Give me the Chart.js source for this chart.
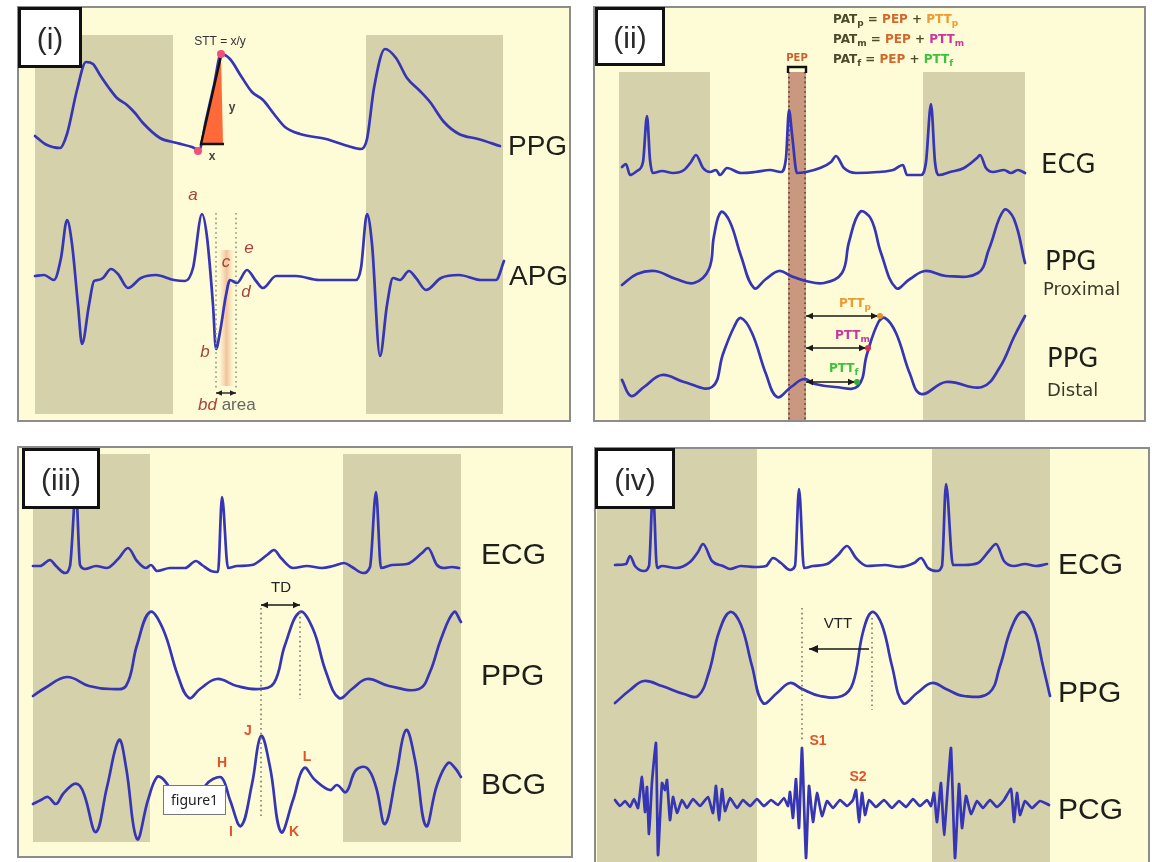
<!DOCTYPE html>
<html>
<head>
<meta charset="utf-8">
<title>PPG / APG / ECG / BCG / PCG timing</title>
<script src="https://cdn.jsdelivr.net/npm/chart.js@4.4.1/dist/chart.umd.min.js"></script>
<style>
  html, body { margin: 0; padding: 0; background: #fff; }
  #page { position: relative; width: 1152px; height: 862px; overflow: hidden; background: #fff; }
  #page canvas { position: absolute; }
</style>
</head>
<body>
<div id="page">
  <canvas id="p1"></canvas>
  <canvas id="p2"></canvas>
  <canvas id="p3"></canvas>
  <canvas id="p4"></canvas>
</div>
<script>
// ---- data: [time, amplitude] (amplitude is up-positive, relative to the trace baseline)

// (i) PPG / APG
const p1Bands = [[18, 156], [349, 486]];
const p1Names = ['PPG', 'APG'];
const p1Ppg = [[18,14],[28,6],[43,2],[50,16],[60,60],[69,88],[76,86],[83,75],[92,62],[100,52],[110,45],[118,37],[126,27],[143,12],[160,7],[175,3],[182,0],[189,30],[197,65],[204,96],[213,91],[224,74],[235,58],[246,50],[257,36],[268,23],[283,16],[309,11],[331,4],[344,1],[350,11],[357,62],[368,101],[379,92],[390,72],[402,60],[413,48],[427,28],[442,16],[461,11],[483,4]];
const p1Apg = [[18,2],[27,3],[37,-2],[44,20],[50,58],[55,34],[61,-27],[65,-66],[72,-27],[77,-3],[81,-2],[86,0],[94,9],[101,4],[111,-10],[124,0],[139,3],[157,-2],[168,-3],[176,10],[185,64],[190,41],[196,-27],[199,-71],[203,-54],[209,-17],[213,-2],[220,-5],[230,8],[239,-3],[246,-10],[259,2],[279,2],[302,-2],[339,-2],[344,10],[350,64],[355,34],[363,-78],[370,-27],[376,0],[383,-2],[392,7],[399,0],[409,-12],[424,0],[442,3],[464,-2],[479,-2],[487,17]];
const p1Marks = ['a', 'b', 'c', 'd', 'e'];

// (ii) ECG / PPG proximal / PPG distal
const p2Bands = [[26, 117], [330, 432]];
const p2Pep = [195, 213];
const p2Names = ['ECG', 'PPG', 'PPG'];
const p2Sites = ['Proximal', 'Distal'];
const p2Ecg = [[29,3],[33,6],[37,-5],[44,-1],[50,8],[54,54],[57,10],[60,-3],[69,-1],[80,-3],[91,0],[98,8],[103,15],[110,2],[117,-2],[123,0],[127,-5],[134,2],[148,-3],[162,-2],[177,0],[188,-2],[193,12],[196,60],[199,36],[204,-3],[213,-2],[227,2],[238,8],[243,14],[251,2],[263,-3],[285,-2],[300,0],[310,5],[314,-5],[328,-5],[333,8],[338,66],[342,8],[346,-5],[357,-2],[371,2],[384,12],[387,15],[393,2],[400,-2],[411,0],[418,-3],[425,0],[432,-3]];
const p2PpgProx = [[29,-2],[44,9],[62,12],[83,4],[101,0],[116,14],[121,47],[128,71],[137,61],[148,27],[161,-5],[173,4],[186,12],[198,7],[213,2],[231,0],[249,10],[256,41],[267,71],[278,64],[288,30],[303,-5],[317,4],[332,12],[353,7],[385,10],[396,34],[411,73],[421,64],[432,20]];
const p2PpgDist = [[29,7],[38,-9],[51,0],[69,12],[91,5],[119,0],[130,33],[141,60],[148,69],[159,54],[173,13],[184,-10],[198,0],[211,8],[222,3],[242,0],[265,1],[274,33],[285,64],[292,69],[303,54],[317,13],[328,-7],[353,5],[389,0],[407,20],[421,50],[432,71]];
const p2PttEnds = [287, 275, 264];   // foot-to-peak end points of PTT_p, PTT_m, PTT_f
const p2PttNames = ['p', 'm', 'f'];

// (iii) ECG / PPG / BCG
const p3Bands = [[16, 133], [326, 444]];
const p3Names = ['ECG', 'PPG', 'BCG'];
const p3Ecg = [[16,1],[23,1],[33,7],[39,1],[48,-6],[53,1],[59,77],[63,2],[68,-2],[79,1],[90,-1],[102,9],[111,19],[120,6],[129,-1],[134,2],[140,-4],[153,-1],[168,-1],[179,6],[185,2],[194,-4],[201,-5],[205,70],[211,-1],[220,1],[235,2],[250,12],[257,17],[264,9],[276,-1],[290,1],[305,-1],[316,1],[327,4],[335,0],[346,-6],[353,0],[359,75],[364,-1],[375,2],[390,3],[405,14],[411,19],[420,2],[427,-1],[435,0],[442,-1]];
const p3Ppg = [[16,-7],[28,1],[50,12],[72,3],[94,0],[109,3],[120,44],[133,77],[146,60],[161,13],[172,-9],[183,0],[200,10],[220,3],[242,0],[257,6],[268,44],[283,77],[296,60],[309,17],[322,-9],[335,0],[350,10],[372,3],[402,0],[413,17],[424,50],[437,77],[444,67]];
const p3Bcg = [[16,-14],[24,-10],[31,-7],[39,-14],[46,-4],[57,6],[63,4],[68,-7],[79,-42],[90,3],[102,50],[109,23],[120,-49],[131,-10],[140,13],[147,10],[160,-8],[176,-14],[188,4],[196,11],[205,12],[213,-10],[224,-36],[235,6],[244,54],[253,23],[264,-42],[276,-10],[287,22],[298,10],[313,0],[320,5],[329,-2],[339,20],[350,22],[359,3],[368,-34],[379,14],[389,60],[398,30],[409,-36],[420,5],[431,27],[438,22],[444,13]];
const p3Waves = ['H', 'I', 'J', 'K', 'L'];

// (iv) ECG / PPG / PCG
const p4Bands = [[3, 163], [338, 456]];
const p4Names = ['ECG', 'PPG', 'PCG'];
const p4Ecg = [[21,1],[32,2],[36,10],[41,0],[50,-5],[55,0],[59,76],[63,-2],[68,0],[82,-2],[96,4],[104,14],[109,22],[118,5],[129,0],[136,-3],[147,0],[161,-1],[172,0],[179,8],[187,3],[196,-4],[201,0],[205,77],[210,-2],[219,0],[233,2],[244,11],[253,20],[262,8],[273,0],[291,1],[305,-1],[320,3],[327,8],[334,-2],[343,-5],[348,0],[352,82],[359,1],[370,1],[384,3],[395,15],[402,22],[410,5],[420,0],[431,2],[442,0],[453,2]];
const p4Ppg = [[21,-7],[36,6],[50,15],[68,10],[90,2],[104,0],[115,24],[125,64],[136,84],[147,71],[158,30],[169,-7],[183,3],[196,13],[208,7],[226,0],[248,0],[259,13],[269,64],[278,84],[288,71],[298,30],[309,-7],[323,3],[338,13],[352,7],[370,0],[395,3],[406,30],[417,67],[428,84],[439,71],[449,30],[456,0]];
const p4Pcg = [[21,4],[26,-2],[31,3],[36,-3],[40,5],[44,-4],[48,27],[51,-8],[53,17],[55,-30],[58,22],[62,61],[64,-51],[68,21],[71,14],[73,24],[76,-16],[79,7],[83,-9],[88,4],[93,-4],[99,5],[106,-2],[114,7],[119,-9],[122,18],[125,-16],[128,15],[131,-7],[136,6],[143,-4],[149,4],[156,-2],[163,5],[170,-2],[177,4],[184,-1],[190,6],[194,-2],[196,12],[199,-14],[202,25],[205,-24],[208,56],[212,-54],[215,18],[219,-18],[223,11],[228,-12],[233,3],[239,-4],[246,4],[253,-2],[259,4],[262,14],[265,-18],[268,11],[271,-11],[275,4],[282,-3],[290,4],[298,-4],[305,3],[312,-3],[319,5],[326,-2],[333,4],[337,-2],[340,11],[343,-18],[347,21],[350,-31],[354,20],[357,56],[361,-54],[365,20],[368,-24],[372,8],[377,-10],[383,3],[389,-4],[396,4],[403,-3],[410,4],[417,15],[420,-18],[423,11],[426,-11],[431,3],[438,-4],[446,3],[455,-1]];

// ---- styling
const SANS = '"Liberation Sans", Arial, sans-serif';
const DEJAVU = '"DejaVu Sans", Verdana, sans-serif';
const BG = '#FDFCD6';
const BAND = '#D5D1AA';
const TRACE = '#3535b6';
const FRAME = '#8c8c8c';
const RED = '#E0542C';
const DARK = '#4b4b2c';

function dotted(ctx, x, y0, y1, color) {
  ctx.save();
  ctx.strokeStyle = color;
  ctx.lineWidth = 1.6;
  ctx.setLineDash([1.6, 3.2]);
  ctx.beginPath();
  ctx.moveTo(x, y0);
  ctx.lineTo(x, y1);
  ctx.stroke();
  ctx.restore();
}

function head(ctx, x, y, dir, s) {
  ctx.beginPath();
  ctx.moveTo(x, y);
  ctx.lineTo(x - dir * s, y - s * 0.45);
  ctx.lineTo(x - dir * s, y + s * 0.45);
  ctx.closePath();
  ctx.fill();
}

function arrow(ctx, x0, x1, y, left, right, color, s) {
  ctx.save();
  ctx.strokeStyle = color;
  ctx.fillStyle = color;
  ctx.lineWidth = 1.4;
  ctx.beginPath();
  ctx.moveTo(x0, y);
  ctx.lineTo(x1, y);
  ctx.stroke();
  if (left) head(ctx, x0, y, -1, s);
  if (right) head(ctx, x1, y, 1, s);
  ctx.restore();
}

function text(ctx, str, x, y, font, color, align) {
  ctx.font = font;
  ctx.fillStyle = color;
  ctx.textAlign = align || 'center';
  ctx.textBaseline = 'middle';
  ctx.fillText(str, x, y);
}

function runs(ctx, x, y, parts) {
  ctx.textAlign = 'left';
  ctx.textBaseline = 'middle';
  parts.forEach(function(p) {
    ctx.font = p.sub ? 'bold 9px ' + DEJAVU : 'bold 12px ' + DEJAVU;
    ctx.fillStyle = p.c;
    ctx.fillText(p.t, x, y + (p.sub ? 4 : 0));
    x += ctx.measureText(p.t).width;
  });
}

function dot(ctx, x, y, r, color) {
  ctx.fillStyle = color;
  ctx.beginPath();
  ctx.arc(x, y, r, 0, Math.PI * 2);
  ctx.fill();
}

function labelBox(ctx, b) {
  ctx.fillStyle = '#fff';
  ctx.fillRect(b[0], b[1], b[2], b[3]);
  ctx.strokeStyle = '#111';
  ctx.lineWidth = 3;
  ctx.strokeRect(b[0] + 1.5, b[1] + 1.5, b[2] - 3, b[3] - 3);
  text(ctx, b[4], b[0] + b[2] / 2, b[1] + b[3] / 2 + 3, '30px ' + SANS, '#2a2a2a');
}

// ---- per-panel extras
function p1Under(chart, ctx) {
  const x = chart.scales.x;
  const g = ctx.createLinearGradient(x.getPixelForValue(202), 0, x.getPixelForValue(217), 0);
  g.addColorStop(0, 'rgba(238,170,130,0)');
  g.addColorStop(0.5, 'rgba(232,150,110,0.55)');
  g.addColorStop(1, 'rgba(238,170,130,0)');
  ctx.fillStyle = g;
  ctx.fillRect(x.getPixelForValue(202), 244, 15, 136);
}

function p1Over(chart, ctx) {
  const x = chart.scales.x, y0 = chart.scales.y0;
  // foot and peak of the second PPG upstroke
  let foot = null, peak = null;
  p1Ppg.forEach(function(p) {
    if (p[0] > 165 && p[0] < 195 && (!foot || p[1] <= foot[1])) foot = p;
    if (p[0] > 185 && p[0] < 220 && (!peak || p[1] >= peak[1])) peak = p;
  });
  const fx = x.getPixelForValue(foot[0]), fy = y0.getPixelForValue(foot[1]);
  const px = x.getPixelForValue(peak[0]), py = y0.getPixelForValue(peak[1]);
  ctx.fillStyle = '#FF6a38';
  ctx.beginPath();
  ctx.moveTo(fx + 2, fy - 6);
  ctx.lineTo(px, py + 2);
  ctx.lineTo(px + 2, fy - 6);
  ctx.closePath();
  ctx.fill();
  ctx.strokeStyle = '#111';
  ctx.lineWidth = 2.4;
  ctx.beginPath();
  ctx.moveTo(px, py + 2);
  ctx.lineTo(fx + 2, fy - 6);
  ctx.lineTo(px + 3, fy - 6);
  ctx.stroke();
  dot(ctx, fx - 1, fy + 1, 4, '#F0507a');
  dot(ctx, px, py, 4, '#F0507a');
  text(ctx, 'STT = x/y', 203, 36, '12px ' + SANS, '#333');
  text(ctx, 'y', 215, 102, 'bold 12px ' + SANS, '#444');
  text(ctx, 'x', 195, 151, 'bold 12px ' + SANS, '#444');

  dotted(ctx, x.getPixelForValue(199), 207, 384, '#8e9878');
  dotted(ctx, x.getPixelForValue(219), 207, 384, '#8e9878');
  arrow(ctx, x.getPixelForValue(199), x.getPixelForValue(219), 387, true, true, '#222', 6);

  const pos = [[176, 189], [188, 346], [209, 256], [229, 286], [232, 242]];
  p1Marks.forEach(function(m, i) {
    text(ctx, m, pos[i][0], pos[i][1], 'italic 17px ' + SANS, '#A8433a');
  });
  text(ctx, 'bd', 181, 399, 'italic 17px ' + SANS, '#A8433a', 'left');
  ctx.font = 'italic 17px ' + SANS;
  const w = ctx.measureText('bd ').width;
  text(ctx, 'area', 181 + w, 399, '17px ' + SANS, '#666', 'left');
}

function p2Under(chart, ctx) {
  const x = chart.scales.x;
  const a = x.getPixelForValue(p2Pep[0]), b = x.getPixelForValue(p2Pep[1]);
  ctx.fillStyle = '#C9987e';
  ctx.fillRect(a, 66, b - a, chart.height - 66);
  dotted(ctx, a + 1, 66, chart.height, '#5a3e30');
  dotted(ctx, b - 1, 66, chart.height, '#5a3e30');
}

function p2Over(chart, ctx) {
  const x = chart.scales.x;
  const a = x.getPixelForValue(p2Pep[0]), b = x.getPixelForValue(p2Pep[1]);
  ctx.strokeStyle = '#111';
  ctx.lineWidth = 2.4;
  ctx.beginPath();
  ctx.moveTo(a, 67);
  ctx.lineTo(a, 61);
  ctx.lineTo(b, 61);
  ctx.lineTo(b, 67);
  ctx.stroke();
  text(ctx, 'PEP', (a + b) / 2, 52, 'bold 10px ' + DEJAVU, '#C8622c');

  const pttCol = ['#EC9a34', '#C8389a', '#3cc23c'];
  const dotCol = ['#E8902a', '#E0304e', '#30b030'];
  const ys = [14, 34, 54];
  p2PttNames.forEach(function(n, i) {
    runs(ctx, 240, ys[i], [
      {t: 'PAT', c: DARK}, {t: n, c: DARK, sub: true}, {t: ' = ', c: DARK},
      {t: 'PEP', c: '#D2682e'}, {t: ' + ', c: DARK},
      {t: 'PTT', c: pttCol[i]}, {t: n, c: pttCol[i], sub: true}
    ]);
  });

  const ay = [310, 342, 376];
  const ly = [298, 330, 363];
  const lx = [246, 242, 236];
  p2PttEnds.forEach(function(e, i) {
    arrow(ctx, b, x.getPixelForValue(e) - 2, ay[i], true, true, '#1a1a1a', 7);
    dot(ctx, x.getPixelForValue(e), ay[i], 3, dotCol[i]);
    runs(ctx, lx[i], ly[i], [{t: 'PTT', c: pttCol[i]}, {t: p2PttNames[i], c: pttCol[i], sub: true}]);
  });

  text(ctx, p2Sites[0], 450, 284, '18px ' + DEJAVU, '#3a3a2a', 'left');
  text(ctx, p2Sites[1], 454, 385, '18px ' + DEJAVU, '#3a3a2a', 'left');
}

function p3Over(chart, ctx) {
  const x = chart.scales.x;
  const j = x.getPixelForValue(244), pk = x.getPixelForValue(283);
  dotted(ctx, j, 162, 371, '#7a7a6a');
  dotted(ctx, pk, 166, 253, '#7a7a6a');
  arrow(ctx, j, pk, 159, true, true, '#1a1a1a', 7);
  text(ctx, 'TD', 264, 142, '15px ' + SANS, '#222');

  const pos = [[205, 317], [214, 386], [231, 285], [277, 386], [290, 311]];
  p3Waves.forEach(function(m, i) {
    text(ctx, m, pos[i][0], pos[i][1], 'bold 14px ' + SANS, RED);
  });

  ctx.fillStyle = '#fff';
  ctx.fillRect(146, 339, 63, 30);
  ctx.strokeStyle = '#777';
  ctx.lineWidth = 1;
  ctx.strokeRect(146.5, 339.5, 62, 29);
  text(ctx, 'figure1', 177.5, 355, '14px "Noto Sans", ' + SANS, '#222');
}

function p4Over(chart, ctx) {
  const x = chart.scales.x;
  const s1 = x.getPixelForValue(208), pk = x.getPixelForValue(278);
  dotted(ctx, s1, 161, 293, '#7a7a6a');
  dotted(ctx, pk, 171, 263, '#7a7a6a');
  arrow(ctx, x.getPixelForValue(215), x.getPixelForValue(275), 202, true, false, '#1a1a1a', 9);
  text(ctx, 'VTT', 244, 177, '15px ' + SANS, '#222');
  text(ctx, 'S1', 224, 294, 'bold 14px ' + SANS, RED);
  text(ctx, 'S2', 264, 330, 'bold 14px ' + SANS, RED);
}

// curve: 'spiky' keeps extremes exact, 'round' softens the pulse peaks, 'raw' joins samples straight
const panels = {
  p1: { left: 17, top: 6, w: 554, h: 416, frameH: 416, bands: p1Bands, bandTop: 29, bandBottom: 408,
        traces: [{data: p1Ppg, base: 144, curve: 'spiky'}, {data: p1Apg, base: 272, curve: 'spiky'}],
        names: p1Names, namePos: [[491, 141], [492, 271]], nameFont: '28px ' + SANS,
        box: [1, 1, 64, 61, '(i)'], under: p1Under, over: p1Over },
  p2: { left: 593, top: 6, w: 553, h: 416, frameH: 416, bands: p2Bands, bandTop: 66, bandBottom: 414,
        traces: [{data: p2Ecg, base: 164, curve: 'spiky'}, {data: p2PpgProx, base: 277, curve: 'round'}, {data: p2PpgDist, base: 381, curve: 'round'}],
        names: p2Names, namePos: [[448, 160], [452, 257], [454, 354]], nameFont: '26px ' + DEJAVU,
        box: [2, 1, 70, 59, '(ii)'], under: p2Under, over: p2Over },
  p3: { left: 17, top: 446, w: 556, h: 412, frameH: 412, bands: p3Bands, bandTop: 8, bandBottom: 396,
        traces: [{data: p3Ecg, base: 121, curve: 'spiky'}, {data: p3Ppg, base: 243, curve: 'round'}, {data: p3Bcg, base: 344, curve: 'round'}],
        names: p3Names, namePos: [[464, 110], [464, 231], [464, 340]], nameFont: '30px ' + SANS,
        box: [5, 2, 78, 61, '(iii)'], under: null, over: p3Over },
  p4: { left: 594, top: 447, w: 556, h: 415, frameH: 430, bands: p4Bands, bandTop: 1, bandBottom: 415,
        traces: [{data: p4Ecg, base: 119, curve: 'spiky'}, {data: p4Ppg, base: 249, curve: 'round'}, {data: p4Pcg, base: 357, curve: 'raw'}],
        names: p4Names, namePos: [[464, 119], [464, 247], [464, 364]], nameFont: '30px ' + SANS,
        box: [1, 1, 80, 61, '(iv)'], under: null, over: p4Over }
};

const decor = {
  id: 'decor',
  beforeDatasetsDraw(chart) {
    const s = panels[chart.canvas.id];
    const ctx = chart.ctx;
    const x = chart.scales.x;
    ctx.save();
    ctx.fillStyle = BG;
    ctx.fillRect(0, 0, chart.width, chart.height);
    ctx.fillStyle = BAND;
    s.bands.forEach(function(b) {
      const a = x.getPixelForValue(b[0]);
      ctx.fillRect(a, s.bandTop, x.getPixelForValue(b[1]) - a, s.bandBottom - s.bandTop);
    });
    if (s.under) s.under(chart, ctx);
    ctx.restore();
  },
  afterDatasetsDraw(chart) {
    const s = panels[chart.canvas.id];
    const ctx = chart.ctx;
    ctx.save();
    if (s.over) s.over(chart, ctx);
    s.names.forEach(function(n, i) {
      text(ctx, n, s.namePos[i][0], s.namePos[i][1], s.nameFont, '#1f1f1a', 'left');
    });
    ctx.strokeStyle = FRAME;
    ctx.lineWidth = 2;
    ctx.strokeRect(1, 1, chart.width - 2, s.frameH - 2);
    labelBox(ctx, s.box);
    ctx.restore();
  }
};

Object.keys(panels).forEach(function(id) {
  const s = panels[id];
  const canvas = document.getElementById(id);
  canvas.width = s.w;
  canvas.height = s.h;
  canvas.style.left = s.left + 'px';
  canvas.style.top = s.top + 'px';
  const scales = { x: { type: 'linear', min: 0, max: s.w, display: false } };
  const datasets = s.traces.map(function(tr, i) {
    scales['y' + i] = { type: 'linear', display: false, min: tr.base - s.h, max: tr.base };
    return {
      data: tr.data.map(function(p) { return {x: p[0], y: p[1]}; }),
      yAxisID: 'y' + i,
      borderColor: TRACE,
      borderWidth: 2.7,
      pointRadius: 0,
      fill: false,
      tension: tr.curve === 'round' ? 0.4 : (tr.curve === 'raw' ? 0.15 : 0.4),
      cubicInterpolationMode: tr.curve === 'spiky' ? 'monotone' : 'default',
      borderJoinStyle: 'round',
      borderCapStyle: 'round'
    };
  });
  new Chart(canvas, {
    type: 'line',
    data: { datasets: datasets },
    options: {
      responsive: false,
      devicePixelRatio: 1,
      animation: false,
      layout: { padding: 0 },
      scales: scales,
      plugins: { legend: { display: false }, tooltip: { enabled: false } },
      events: []
    },
    plugins: [decor]
  });
});
</script>
</body>
</html>
